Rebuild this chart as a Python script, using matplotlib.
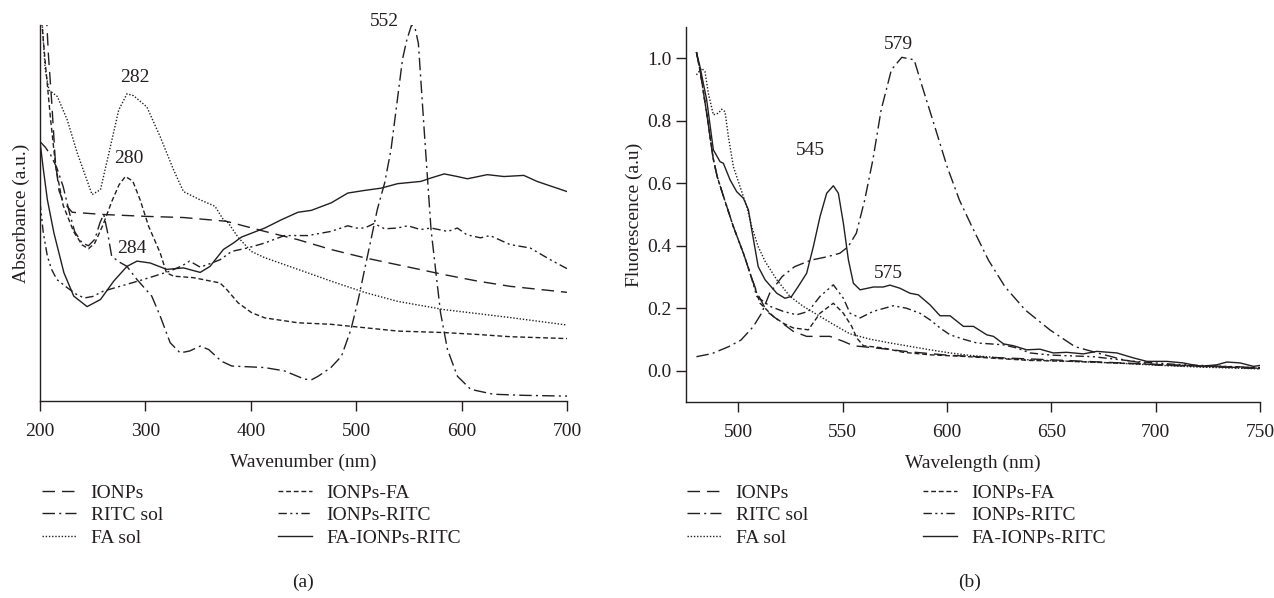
import matplotlib
matplotlib.use("Agg")
import matplotlib.pyplot as plt

plt.rcParams['font.family'] = ['Liberation Serif', 'DejaVu Serif']
FS = 14
INK = '#231f20'

# ---------------- Panel (a): UV-Vis absorbance ----------------
a_ionps_x = [206, 208, 211, 214.5, 218, 222, 230.5, 260.5, 301, 336, 376.7, 413.3, 444.8, 476, 507.8, 551.6, 583.5, 614.9, 646, 700]
a_ionps_y = [1.03, 0.92, 0.80, 0.64, 0.56, 0.53, 0.502, 0.496, 0.491, 0.488, 0.478, 0.451, 0.429, 0.403, 0.381, 0.355, 0.336, 0.319, 0.305, 0.289]

a_ritc_x = [200, 205, 210, 216, 222, 228, 233, 240, 246, 252, 257, 260.5, 264, 268, 275, 282.5, 292, 306, 314, 323.5, 333, 342, 352, 360, 372, 382, 413, 432, 451, 458, 464, 476, 486, 495, 502, 508, 514, 520, 527, 533, 539, 544, 548, 552.5, 556, 559, 565, 571, 575.5, 580, 586.6, 596, 608.6, 630, 660, 700]
a_ritc_y = [0.69, 0.675, 0.655, 0.62, 0.57, 0.50, 0.45, 0.42, 0.413, 0.43, 0.475, 0.496, 0.45, 0.385, 0.37, 0.358, 0.323, 0.279, 0.226, 0.155, 0.128, 0.133, 0.146, 0.137, 0.106, 0.093, 0.089, 0.080, 0.058, 0.057, 0.066, 0.089, 0.119, 0.19, 0.27, 0.35, 0.429, 0.509, 0.58, 0.668, 0.80, 0.91, 0.96, 1.0, 0.99, 0.951, 0.70, 0.456, 0.345, 0.235, 0.137, 0.066, 0.031, 0.018, 0.015, 0.013]

a_fasol_x = [201.5, 205, 208.5, 216.4, 225.8, 235.3, 249.4, 257.4, 266.8, 274.7, 282.5, 288.8, 301.4, 314, 326.7, 336.1, 351.9, 366, 374, 378.6, 388, 400.4, 413.3, 444.8, 476, 507.8, 539.3, 583.5, 646, 700]
a_fasol_y = [1.03, 0.88, 0.827, 0.810, 0.748, 0.660, 0.549, 0.562, 0.677, 0.774, 0.817, 0.812, 0.782, 0.703, 0.615, 0.557, 0.535, 0.518, 0.482, 0.474, 0.435, 0.398, 0.381, 0.350, 0.319, 0.289, 0.265, 0.243, 0.222, 0.202]

a_ionpsfa_x = [201, 205, 210, 215, 222, 232, 240, 246, 252, 260, 268, 275, 281, 288, 295, 303, 314, 320, 326.7, 345.6, 370.8, 377, 388, 400.7, 413.3, 444.8, 476, 507.8, 539.3, 583.5, 614.9, 646, 700]
a_ionpsfa_y = [1.03, 0.90, 0.75, 0.62, 0.52, 0.45, 0.415, 0.405, 0.42, 0.47, 0.53, 0.575, 0.597, 0.585, 0.535, 0.465, 0.394, 0.341, 0.332, 0.328, 0.314, 0.297, 0.261, 0.235, 0.221, 0.208, 0.204, 0.195, 0.186, 0.182, 0.177, 0.171, 0.166]

a_ionpsritc_x = [200, 203, 207, 211, 216, 226, 235, 242, 250, 260, 282, 298, 323, 335, 342, 352, 362, 371, 382, 397, 413, 432, 454, 476, 492, 500, 508, 517, 527, 539, 549, 561, 571, 587, 596, 605, 618, 627, 646, 665, 684, 700]
a_ionpsritc_y = [0.53, 0.45, 0.385, 0.35, 0.323, 0.301, 0.283, 0.274, 0.278, 0.292, 0.31, 0.323, 0.345, 0.36, 0.372, 0.356, 0.366, 0.376, 0.398, 0.407, 0.42, 0.44, 0.44, 0.451, 0.466, 0.46, 0.46, 0.472, 0.458, 0.46, 0.466, 0.456, 0.46, 0.451, 0.46, 0.442, 0.434, 0.44, 0.416, 0.407, 0.376, 0.352]

a_faionpsritc_x = [200, 203, 207, 213.2, 222.7, 232, 244.7, 257.4, 270, 282.5, 292, 304.6, 320.3, 336.1, 352, 361.3, 374, 383.4, 391.2, 413.3, 429, 444.8, 457.4, 476.3, 492, 507.8, 523.5, 539.3, 561.3, 570.8, 583.5, 596, 605.5, 624.4, 640.2, 659, 671.6, 700]
a_faionpsritc_y = [0.69, 0.62, 0.535, 0.447, 0.341, 0.279, 0.251, 0.27, 0.319, 0.358, 0.372, 0.367, 0.35, 0.354, 0.342, 0.358, 0.403, 0.42, 0.436, 0.46, 0.482, 0.502, 0.507, 0.527, 0.553, 0.56, 0.566, 0.578, 0.584, 0.593, 0.604, 0.597, 0.591, 0.602, 0.597, 0.60, 0.584, 0.557]

a_xticks = [200, 300, 400, 500, 600, 700]
a_peaks = [("552", 527, 1.01), ("282", 290, 0.86), ("280", 284, 0.645), ("284", 287, 0.405)]

# ---------------- Panel (b): fluorescence ----------------
b_ionps_x = [480, 482, 485, 488, 490, 493, 497.7, 502.5, 505.7, 509, 513.7, 520, 526.4, 532.8, 544, 550.4, 555.2, 570, 580, 600, 620, 650, 700, 750]
b_ionps_y = [1.02, 0.95, 0.82, 0.68, 0.62, 0.557, 0.461, 0.376, 0.312, 0.25, 0.19, 0.158, 0.126, 0.11, 0.11, 0.094, 0.08, 0.07, 0.062, 0.05, 0.043, 0.035, 0.02, 0.008]

b_ritc_x = [480, 487.5, 495.4, 501.3, 507.2, 511.2, 515.1, 521, 527, 534.9, 542.8, 548.7, 552.7, 556.6, 560.6, 564.5, 568.5, 573.4, 578.4, 584.3, 588.2, 594.2, 600.1, 606, 612, 619.9, 627.8, 637.6, 649.5, 661.4, 673.2, 685.1, 700.9, 724.6, 750]
b_ritc_y = [0.045, 0.055, 0.077, 0.098, 0.141, 0.184, 0.248, 0.301, 0.333, 0.354, 0.365, 0.376, 0.397, 0.44, 0.546, 0.674, 0.835, 0.963, 1.003, 0.995, 0.909, 0.781, 0.653, 0.546, 0.461, 0.354, 0.269, 0.194, 0.130, 0.077, 0.055, 0.034, 0.018, 0.013, 0.007]

b_fasol_x = [480, 482.5, 484.1, 485.7, 488.1, 490.5, 492.1, 493.7, 495.3, 497.7, 500.9, 504.1, 506.5, 509.6, 512.9, 518.5, 524.8, 531.2, 539.2, 547.2, 553.6, 563.2, 572.7, 582.3, 591.9, 601.5, 611.1, 620.7, 630.2, 639.8, 660, 680, 700, 720, 750]
b_fasol_y = [0.947, 0.968, 0.957, 0.888, 0.819, 0.824, 0.837, 0.829, 0.749, 0.653, 0.589, 0.525, 0.461, 0.397, 0.35, 0.291, 0.238, 0.206, 0.174, 0.142, 0.118, 0.101, 0.089, 0.078, 0.067, 0.057, 0.049, 0.044, 0.038, 0.035, 0.03, 0.025, 0.018, 0.012, 0.006]

b_ionpsfa_x = [480, 482, 485, 488, 490, 493, 497.7, 502.5, 505.7, 510.5, 516.8, 521.6, 526.4, 533.6, 539.2, 545.6, 550.4, 554.4, 556.8, 560, 569.5, 579.1, 591.9, 607.9, 639.8, 660, 700, 750]
b_ionpsfa_y = [1.02, 0.95, 0.82, 0.68, 0.62, 0.557, 0.461, 0.376, 0.312, 0.216, 0.174, 0.152, 0.137, 0.131, 0.184, 0.216, 0.184, 0.142, 0.105, 0.08, 0.073, 0.059, 0.051, 0.046, 0.033, 0.03, 0.02, 0.01]

b_ionpsritc_x = [480, 482, 485, 488, 490, 493, 497.7, 502.5, 505.7, 508.9, 515.3, 521.6, 528, 533.6, 539.2, 545.6, 550.4, 553.6, 558.4, 564.7, 574.3, 580.7, 587.1, 591.9, 596.7, 601.5, 607.9, 614.3, 620.7, 627, 633.5, 639.8, 650, 670, 690, 710, 750]
b_ionpsritc_y = [1.02, 0.95, 0.82, 0.68, 0.62, 0.557, 0.461, 0.376, 0.312, 0.238, 0.206, 0.19, 0.179, 0.19, 0.238, 0.275, 0.232, 0.184, 0.169, 0.19, 0.208, 0.2, 0.184, 0.163, 0.137, 0.115, 0.101, 0.089, 0.086, 0.083, 0.073, 0.057, 0.05, 0.045, 0.03, 0.02, 0.01]

b_faionpsritc_x = [480.1, 481.7, 484.9, 488.1, 491.3, 492.9, 496.1, 499.3, 502.5, 504.9, 506.5, 509.6, 512.9, 518.5, 522.4, 525.6, 528.8, 532.8, 536, 539.2, 542.4, 545.6, 548, 550.4, 552.8, 555.2, 558.4, 564.8, 569.5, 572.7, 577.5, 582.3, 586.3, 591.9, 596.7, 601.5, 607.9, 612.7, 619.1, 622.3, 627.1, 631.9, 638.2, 644.6, 651, 657.4, 665.4, 671.8, 681.4, 689.4, 695.8, 705.3, 713.3, 721.3, 729.3, 734.1, 740.5, 746.9, 750]
b_faionpsritc_y = [1.016, 0.973, 0.867, 0.707, 0.669, 0.664, 0.611, 0.573, 0.552, 0.515, 0.451, 0.333, 0.291, 0.248, 0.232, 0.238, 0.270, 0.312, 0.397, 0.493, 0.568, 0.592, 0.568, 0.472, 0.355, 0.28, 0.259, 0.268, 0.268, 0.274, 0.264, 0.248, 0.243, 0.211, 0.176, 0.176, 0.142, 0.142, 0.115, 0.11, 0.086, 0.080, 0.067, 0.069, 0.057, 0.059, 0.054, 0.062, 0.057, 0.041, 0.030, 0.030, 0.025, 0.014, 0.019, 0.028, 0.025, 0.014, 0.017]

b_xticks = [500, 550, 600, 650, 700, 750]
b_yticks = [0.0, 0.2, 0.4, 0.6, 0.8, 1.0]
b_peaks = [("579", 577, 1.045), ("545", 534.5, 0.705), ("575", 572, 0.31)]

labels = ["IONPs", "RITC sol", "FA sol", "IONPs-FA", "IONPs-RITC", "FA-IONPs-RITC"]
styles = [(0, (9, 5)), (0, (9, 3, 1.5, 3)), (0, (1, 1.3)), (0, (3.5, 2)),
          (0, (6, 2.5, 1.5, 2.5, 1.5, 2.5)), '-']

W, H = 1274, 598
fig = plt.figure(figsize=(W / 100, H / 100), dpi=100)
axA = fig.add_axes([40/W, 1-401/H, (567-40)/W, (401-25)/H])
axB = fig.add_axes([686/W, 1-402/H, (1260-686)/W, (402-27)/H])

seriesA = [(a_ionps_x, a_ionps_y), (a_ritc_x, a_ritc_y), (a_fasol_x, a_fasol_y),
           (a_ionpsfa_x, a_ionpsfa_y), (a_ionpsritc_x, a_ionpsritc_y), (a_faionpsritc_x, a_faionpsritc_y)]
seriesB = [(b_ionps_x, b_ionps_y), (b_ritc_x, b_ritc_y), (b_fasol_x, b_fasol_y),
           (b_ionpsfa_x, b_ionpsfa_y), (b_ionpsritc_x, b_ionpsritc_y), (b_faionpsritc_x, b_faionpsritc_y)]

legend_cols = {axA: (42, 278), axB: (687, 923)}

for ax, series in ((axA, seriesA), (axB, seriesB)):
    handles = []
    for (xs, ys), lab, ls in zip(series, labels, styles):
        h, = ax.plot(xs, ys, color=INK, lw=1.0, ls=ls, label=lab)
        handles.append(h)
    for s in ('top', 'right'):
        ax.spines[s].set_visible(False)
    for s in ('left', 'bottom'):
        ax.spines[s].set_color(INK)
        ax.spines[s].set_linewidth(1.0)
    ax.tick_params(colors=INK, labelsize=FS, length=7, width=1.0, direction='out')
    ax.tick_params(axis='x', pad=9)
    c1, c2 = legend_cols[ax]
    kw = dict(loc='upper left', frameon=False, fontsize=FS, handlelength=1.75,
              handletextpad=0.75, labelspacing=0.26, borderpad=0, borderaxespad=0,
              bbox_transform=fig.transFigure)
    leg1 = ax.legend(handles=handles[:3], bbox_to_anchor=(c1 / W, 1 - 484 / H), **kw)
    ax.add_artist(leg1)
    leg2 = ax.legend(handles=handles[3:], bbox_to_anchor=(c2 / W, 1 - 484 / H), **kw)
    for lg in (leg1, leg2):
        for t in lg.get_texts():
            t.set_color(INK)

axA.set_xlim(200, 700)
axA.set_ylim(0, 1.0)
axA.set_xticks(a_xticks)
axA.set_yticks([])
axA.set_xlabel("Wavenumber (nm)", fontsize=FS, color=INK, labelpad=10)
axA.set_ylabel("Absorbance (a.u.)", fontsize=FS, color=INK)
axA.yaxis.set_label_coords((30 - 40) / (567 - 40), 0.5)
for txt, x, y in a_peaks:
    axA.text(x, y, txt, fontsize=FS, color=INK, ha='center', va='center', clip_on=False)
fig.text(303 / W, 1 - 582 / H, "(a)", ha='center', va='center', fontsize=FS, color=INK)

axB.set_xlim(475, 750)
axB.set_ylim(-0.1, 1.1)
axB.set_xticks(b_xticks)
axB.set_yticks(b_yticks)
axB.set_yticklabels([f"{v:.1f}" for v in b_yticks])
axB.set_xlabel("Wavelength (nm)", fontsize=FS, color=INK, labelpad=10)
axB.set_ylabel("Fluorescence (a.u)", fontsize=FS, color=INK)
axB.yaxis.set_label_coords((643 - 686) / (1260 - 686), 0.5)
for txt, x, y in b_peaks:
    axB.text(x, y, txt, fontsize=FS, color=INK, ha='center', va='center', clip_on=False)
fig.text(970 / W, 1 - 582 / H, "(b)", ha='center', va='center', fontsize=FS, color=INK)

fig.savefig("out.png", dpi=100, facecolor='white')
